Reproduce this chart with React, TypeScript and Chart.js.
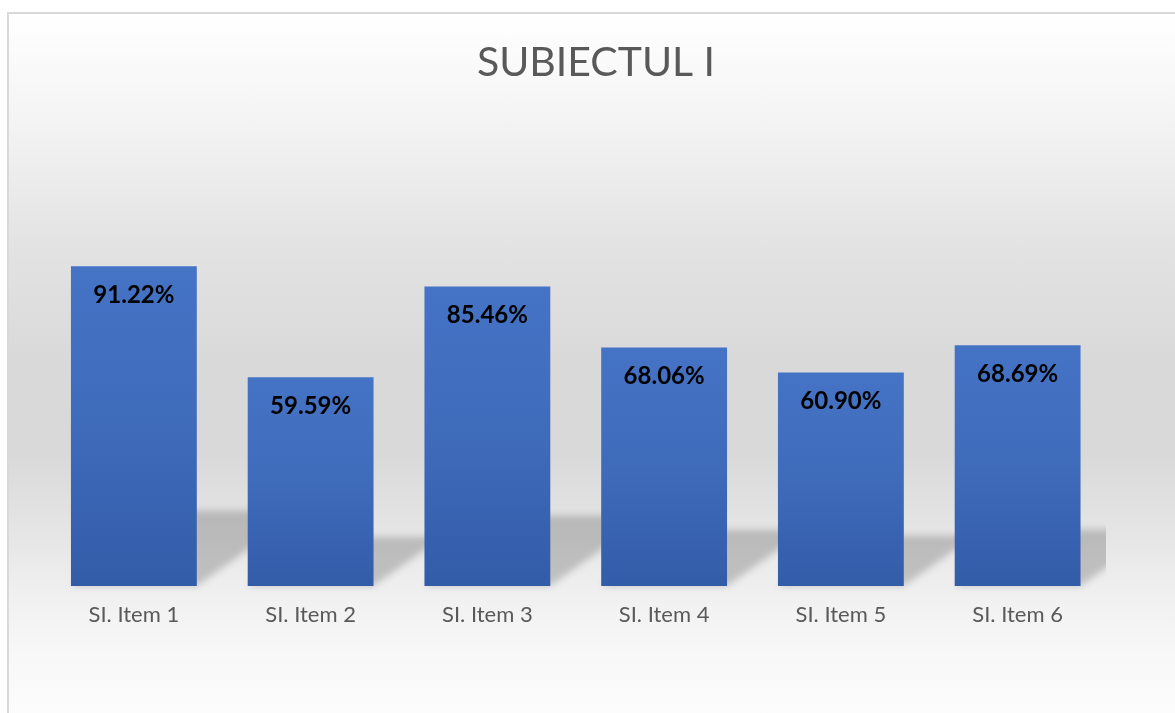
import React, { useEffect, useRef } from "react";
import { Chart, registerables } from "chart.js";

Chart.register(...registerables);

const TITLE = "SUBIECTUL I";
const categories = ["SI. Item 1", "SI. Item 2", "SI. Item 3", "SI. Item 4", "SI. Item 5", "SI. Item 6"];
const values = [91.22, 59.59, 85.46, 68.06, 60.9, 68.69];
const yMin = 0;
const yMax = 100;

const FONT = "Lato, 'Open Sans', sans-serif";

const shadowPlugin = {
  id: "barShadow",
  beforeDatasetsDraw(chart: any) {
    const { ctx, chartArea } = chart;
    const meta = chart.getDatasetMeta(0);
    ctx.save();
    ctx.beginPath();
    ctx.rect(chartArea.left, 0, chartArea.right - chartArea.left, chart.height);
    ctx.clip();
    ctx.filter = "blur(3.5px)";
    ctx.fillStyle = "rgba(0,0,0,0.19)";
    ctx.beginPath();
    meta.data.forEach((el: any) => {
      const h = el.base - el.y;
      const hs = h * 0.235;
      const dx = hs * 1.4;
      const x0 = el.x - el.width / 2;
      const x1 = el.x + el.width / 2;
      ctx.moveTo(x0, el.base);
      ctx.lineTo(x1, el.base);
      ctx.lineTo(x1 + dx, el.base - hs);
      ctx.lineTo(x0 + dx, el.base - hs);
      ctx.closePath();
    });
    ctx.fill();
    ctx.restore();
  },
};

const labelPlugin = {
  id: "barLabels",
  afterDatasetsDraw(chart: any) {
    const { ctx } = chart;
    const meta = chart.getDatasetMeta(0);
    ctx.save();
    ctx.font = `bold 24px ${FONT}`;
    ctx.fillStyle = "#000000";
    ctx.textAlign = "center";
    ctx.textBaseline = "middle";
    meta.data.forEach((el: any, i: number) => {
      ctx.fillText(values[i].toFixed(2) + "%", el.x, el.y + 29);
    });
    ctx.restore();
  },
};

export default function App() {
  const ref = useRef<HTMLCanvasElement | null>(null);

  useEffect(() => {
    if (!ref.current) return;
    const chart = new Chart(ref.current, {
      type: "bar",
      data: {
        labels: categories,
        datasets: [
          {
            data: values,
            categoryPercentage: 1,
            barPercentage: 0.712,
            backgroundColor: (c: any) => {
              const ch = c.chart;
              if (!ch.chartArea || c.raw == null) return "#4472c4";
              const y = ch.scales.y;
              const top = y.getPixelForValue(c.raw);
              const base = y.getPixelForValue(0);
              const g = ch.ctx.createLinearGradient(0, top, 0, base);
              g.addColorStop(0, "#4573c5");
              g.addColorStop(0.5, "#3f6bbb");
              g.addColorStop(1, "#335ca8");
              return g;
            },
            borderWidth: 0,
          },
        ],
      },
      options: {
        responsive: false,
        animation: false,
        layout: { padding: { left: 8, right: 0, top: 0, bottom: 76.6 } },
        plugins: {
          legend: { display: false },
          tooltip: { enabled: false },
          title: {
            display: true,
            text: TITLE,
            color: "#595959",
            font: { family: FONT, size: 41, weight: "normal" },
            padding: { top: 24.4, bottom: 147.9 },
          },
        },
        scales: {
          x: {
            grid: { display: false },
            border: { display: false },
            ticks: {
              color: "#595959",
              font: { family: FONT, size: 22 },
              padding: 8,
            },
          },
          y: {
            min: yMin,
            max: yMax,
            display: true,
            grid: { display: false },
            border: { display: false },
            ticks: { display: false },
            afterFit: (s: any) => {
              s.width = 28.5;
            },
          },
          yR: {
            type: "linear",
            position: "right",
            display: true,
            grid: { display: false },
            border: { display: false },
            ticks: { display: false },
            afterFit: (s: any) => {
              s.width = 69;
            },
          },
        },
      },
      plugins: [shadowPlugin, labelPlugin],
    });
    return () => chart.destroy();
  }, []);

  return (
    <div
      style={{
        position: "absolute",
        left: 7,
        top: 12,
        width: 1166,
        height: 699,
        borderTop: "2px solid #d9d9d9",
        borderLeft: "2px solid #d9d9d9",
        background:
          "linear-gradient(to bottom, #ffffff 0%, #f4f4f4 15%, #e3e3e3 33%, #d9d9d9 50%, #d9d9d9 63%, #e6e6e6 75%, #f1f1f1 84%, #f8f8f8 92%, #fcfcfc 100%)",
      }}
    >
      <canvas ref={ref} width={1166} height={699} style={{ display: "block", width: 1166, height: 699 }} />
    </div>
  );
}
